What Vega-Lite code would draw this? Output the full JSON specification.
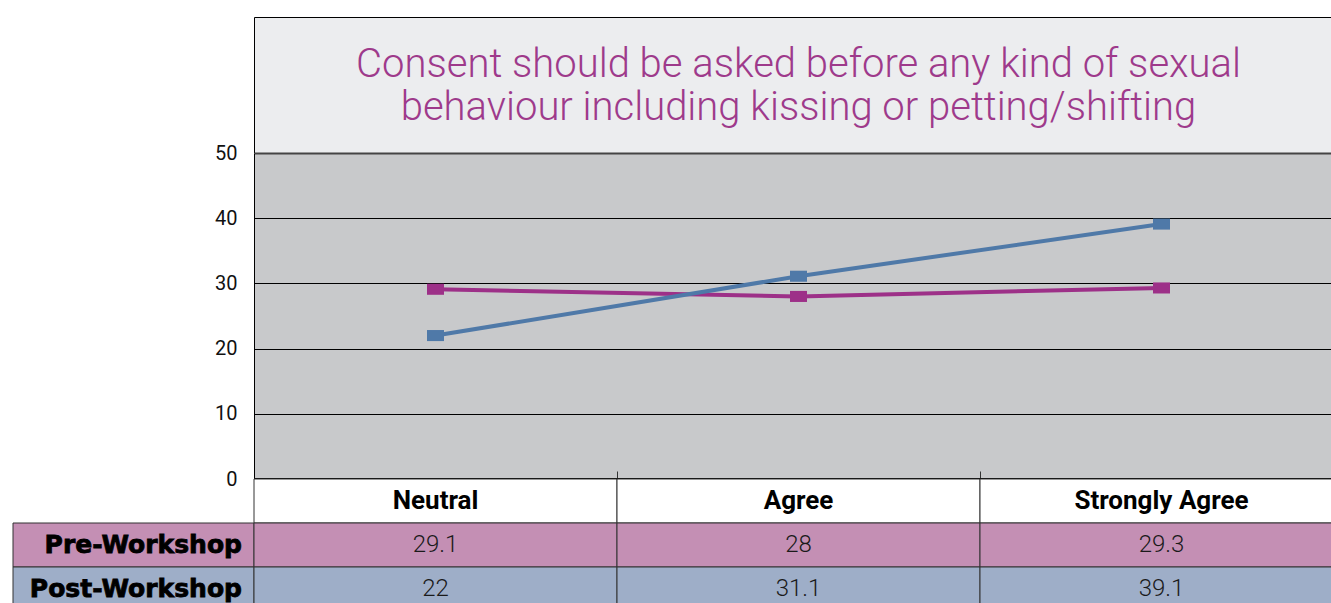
{
  "$schema": "https://vega.github.io/schema/vega-lite/v6.json",
  "padding": {"top": 16, "left": 12, "right": 0, "bottom": 0},
  "config": {"view": {"stroke": null}, "font": "Roboto"},
  "datasets": {
    "responses": [
      {"category": "Neutral", "series": "Pre-Workshop", "value": 29.1},
      {"category": "Agree", "series": "Pre-Workshop", "value": 28},
      {"category": "Strongly Agree", "series": "Pre-Workshop", "value": 29.3},
      {"category": "Neutral", "series": "Post-Workshop", "value": 22},
      {"category": "Agree", "series": "Post-Workshop", "value": 31.1},
      {"category": "Strongly Agree", "series": "Post-Workshop", "value": 39.1}
    ],
    "categories": [
      {"category": "Neutral"},
      {"category": "Agree"},
      {"category": "Strongly Agree"}
    ],
    "series": [
      {"series": "Pre-Workshop"},
      {"series": "Post-Workshop"}
    ]
  },
  "columns": 2,
  "spacing": 0,
  "bounds": "flush",
  "concat": [
    {
      "width": 241,
      "height": 136,
      "data": {"values": [{}]},
      "mark": {"type": "text", "text": ""}
    },
    {
      "width": 1089,
      "height": 136,
      "view": {"fill": "#ecedef", "stroke": "black", "strokeWidth": 1},
      "data": {"values": [{}]},
      "mark": {
        "type": "text",
        "text": ["Consent should be asked before any kind of sexual", "behaviour including kissing or petting/shifting"],
        "font": "Roboto",
        "fontWeight": 300,
        "fontSize": 40,
        "lineHeight": 43,
        "color": "#9e3a8b",
        "align": "center",
        "baseline": "middle",
        "dy": -20
      }
    },
    {
      "width": 241,
      "height": 326,
      "data": {"values": [{}]},
      "mark": {"type": "text", "text": ""}
    },
    {
      "width": 1089,
      "height": 326,
      "view": {"fill": "#c8c9cb"},
      "data": {"name": "responses"},
      "encoding": {
        "x": {
          "field": "category",
          "type": "nominal",
          "sort": ["Neutral", "Agree", "Strongly Agree"],
          "scale": {"type": "band", "paddingInner": 0, "paddingOuter": 0},
          "axis": {
            "title": null,
            "labels": false,
            "domainColor": "black",
            "domainWidth": 3,
            "tickColor": "#333",
            "tickWidth": 1,
            "tickSize": -8,
            "tickBand": "extent"
          }
        },
        "y": {
          "field": "value",
          "type": "quantitative",
          "scale": {"domain": [0, 50], "nice": false},
          "axis": {
            "title": null,
            "values": [0, 10, 20, 30, 40, 50],
            "ticks": false,
            "labelPadding": 17,
            "labelFontSize": 20,
            "labelColor": "#111",
            "domainColor": "black",
            "domainWidth": 1,
            "grid": true,
            "gridColor": {"condition": {"test": "datum.value === 50", "value": "#444"}, "value": "black"},
            "gridWidth": {"condition": [{"test": "datum.value === 50", "value": 2}, {"test": "datum.value === 0", "value": 3}], "value": 1},
            "gridOpacity": 1
          }
        },
        "color": {
          "field": "series",
          "type": "nominal",
          "scale": {"domain": ["Pre-Workshop", "Post-Workshop"], "range": ["#9d3088", "#4f79a8"]},
          "legend": null
        }
      },
      "layer": [
        {"mark": {"type": "line", "strokeWidth": 4}},
        {"mark": {"type": "point", "filled": true, "opacity": 1, "shape": "M-1,-0.65L1,-0.65L1,0.65L-1,0.65Z", "size": 289}}
      ]
    },
    {
      "width": 241,
      "height": 132,
      "data": {"name": "series"},
      "encoding": {
        "y": {
          "field": "series",
          "type": "nominal",
          "scale": {"domain": ["header", "Pre-Workshop", "Post-Workshop"], "paddingInner": 0, "paddingOuter": 0},
          "axis": null
        }
      },
      "layer": [
        {
          "mark": {"type": "rect", "stroke": "#333", "strokeWidth": 1},
          "encoding": {
            "fill": {
              "field": "series",
              "type": "nominal",
              "scale": {"domain": ["Pre-Workshop", "Post-Workshop"], "range": ["#c48fb4", "#9eaec8"]},
              "legend": null
            }
          }
        },
        {
          "mark": {"type": "text", "align": "right", "baseline": "middle", "dx": -12, "font": "DejaVu Sans", "fontWeight": "bold", "fontSize": 25, "color": "black", "stroke": "black", "strokeWidth": 0.8},
          "encoding": {
            "x": {"value": "width"},
            "text": {"field": "series", "type": "nominal"}
          }
        }
      ]
    },
    {
      "width": 1089,
      "height": 132,
      "encoding": {
        "x": {
          "field": "category",
          "type": "nominal",
          "sort": ["Neutral", "Agree", "Strongly Agree"],
          "scale": {"type": "band", "paddingInner": 0, "paddingOuter": 0},
          "axis": null
        }
      },
      "layer": [
        {
          "data": {"name": "categories"},
          "mark": {"type": "rect", "fill": "white", "stroke": "#333", "strokeWidth": 1},
          "encoding": {
            "y": {"datum": "header", "type": "nominal", "scale": {"domain": ["header", "Pre-Workshop", "Post-Workshop"], "paddingInner": 0, "paddingOuter": 0}, "axis": null}
          }
        },
        {
          "data": {"name": "categories"},
          "mark": {"type": "text", "font": "Roboto", "fontWeight": "bold", "fontSize": 26, "color": "black", "baseline": "middle"},
          "encoding": {
            "y": {"datum": "header", "type": "nominal"},
            "text": {"field": "category", "type": "nominal"}
          }
        },
        {
          "data": {"name": "responses"},
          "mark": {"type": "rect", "stroke": "#333", "strokeWidth": 1},
          "encoding": {
            "y": {"field": "series", "type": "nominal"},
            "fill": {
              "field": "series",
              "type": "nominal",
              "scale": {"domain": ["Pre-Workshop", "Post-Workshop"], "range": ["#c48fb4", "#9eaec8"]},
              "legend": null
            }
          }
        },
        {
          "data": {"name": "responses"},
          "mark": {"type": "text", "font": "Roboto", "fontWeight": 300, "fontSize": 24, "color": "#1a1a1a", "baseline": "middle"},
          "encoding": {
            "y": {"field": "series", "type": "nominal"},
            "text": {"field": "value", "type": "nominal"}
          }
        }
      ]
    }
  ]
}
